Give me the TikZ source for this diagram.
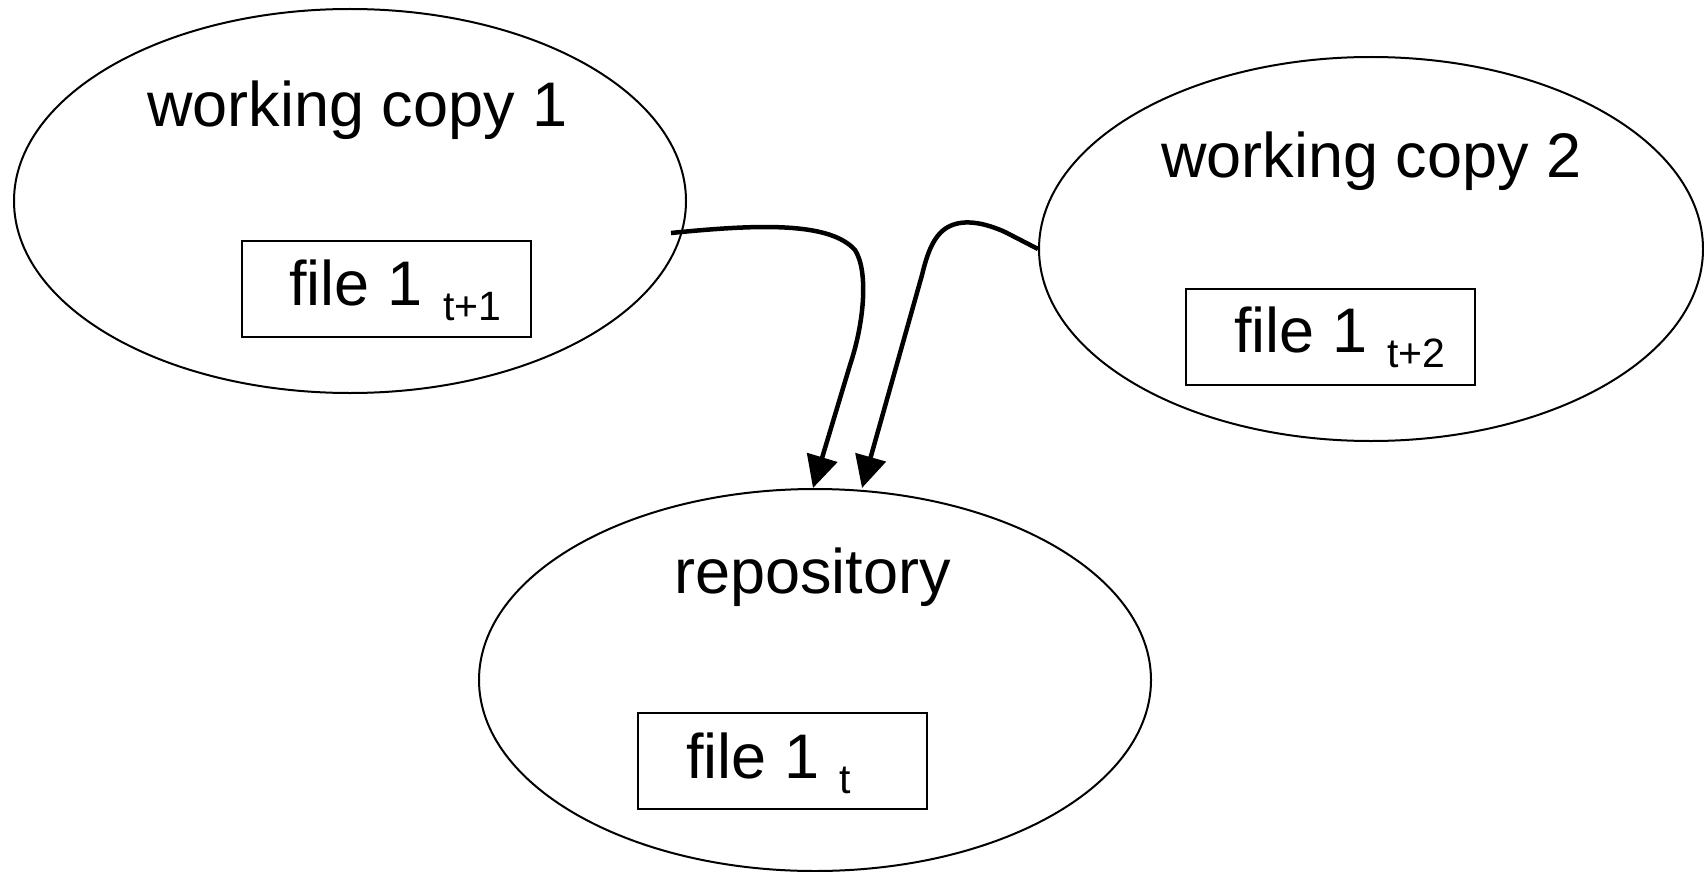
\documentclass[tikz,border=0pt]{standalone}
\usepackage{fontspec}
\setmainfont{Liberation Sans}
\usetikzlibrary{shapes.geometric,arrows.meta}
\begin{document}
\begin{tikzpicture}[x=1pt,y=-1pt,
  blob/.style={draw,ellipse,line width=2pt,inner sep=0pt},
  filebox/.style={draw,rectangle,line width=2pt,inner sep=0pt,minimum width=289pt,minimum height=96pt},
  big/.style={inner sep=0pt,anchor=base west,font=\fontsize{63}{63}\selectfont},
  small/.style={inner sep=0pt,anchor=base west,font=\fontsize{41}{41}\selectfont},
  flow/.style={line width=4.5pt,-{Triangle[length=32pt,width=31pt]}}]
\useasboundingbox (0,0) rectangle (1704,872);
% ellipses
\node[blob,minimum width=672pt,minimum height=384pt] (wc1) at (350,201) {};
\node[blob,minimum width=664pt,minimum height=384pt] (wc2) at (1371,249) {};
\node[blob,minimum width=672pt,minimum height=382pt] (repo) at (815,680) {};
% boxes
\node[filebox] (b1) at (386.5,289) {};
\node[filebox] (b2) at (1330.5,336.5) {};
\node[filebox] (b3) at (782.5,761) {};
% labels
\node[big] (t1) at (147,127) {working copy 1};
\node[big] (t2) at (1161,177) {working copy 2};
\node[big] (t3) at (674,593) {repository};
\node[big] (f1) at (289,305) {file 1};
\node[small] (s1) at (443,320) {t+1};
\node[big] (f2) at (1234,352) {file 1};
\node[small] (s2) at (1387,367) {t+2};
\node[big] (f3) at (686,778) {file 1};
\node[small] (s3) at (839,793) {t};
% connectors
\coordinate (a1) at (671,233);
\coordinate (e1) at (813,488);
\coordinate (e2) at (862,488);
\draw[flow] (a1) .. controls (760,224) and (830,222) .. (855,250)
  .. controls (868,270) and (865,320) .. (850,365) -- (e1);
\draw[flow] (wc2.west) -- (1005,232) .. controls (985,223) and (965,219) .. (950,226)
  .. controls (935,233) and (928,250) .. (922,275) -- (e2);
\end{tikzpicture}
\end{document}
